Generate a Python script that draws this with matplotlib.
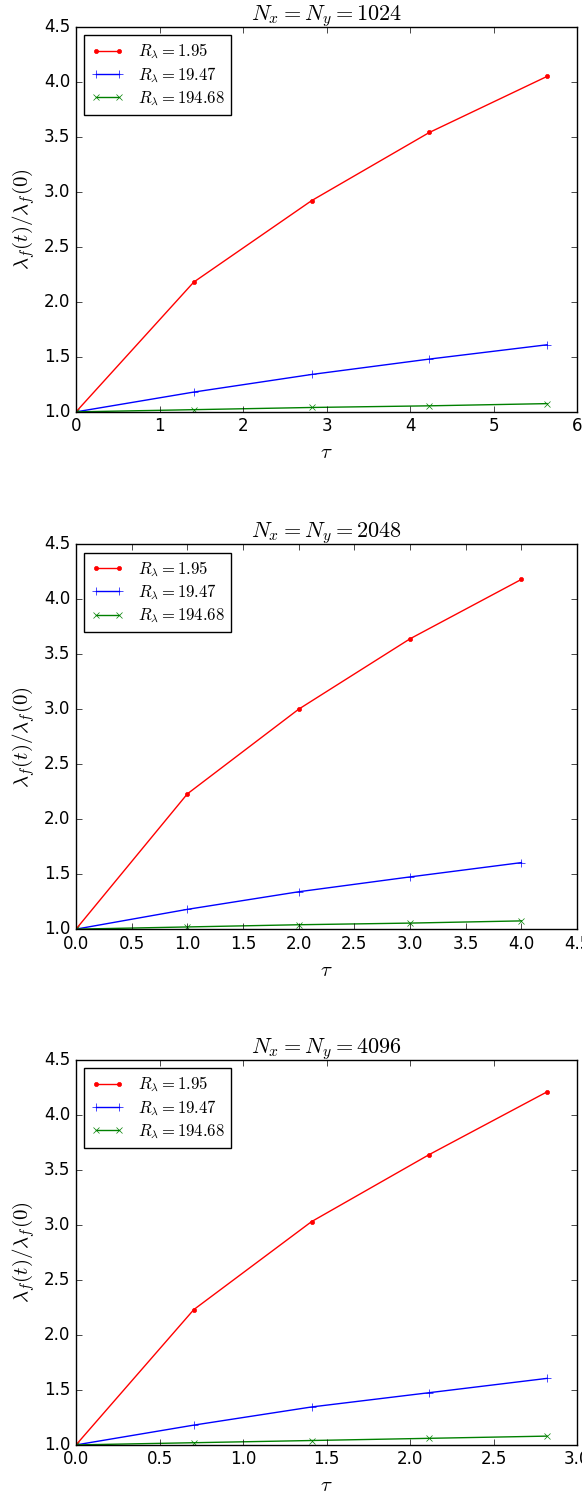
import matplotlib
matplotlib.use("Agg")
import matplotlib.pyplot as plt

plt.style.use("classic")
plt.rcParams["mathtext.fontset"] = "cm"

grid_labels = ["1024", "2048", "4096"]
tau_1024 = [0.0, 1.41, 2.82, 4.23, 5.64]
tau_2048 = [0.0, 1.0, 2.0, 3.0, 4.0]
tau_4096 = [0.0, 0.705, 1.41, 2.115, 2.82]

r195_1024 = [1.0, 2.18, 2.92, 3.54, 4.05]
r1947_1024 = [1.0, 1.18, 1.34, 1.48, 1.61]
r19468_1024 = [1.0, 1.02, 1.04, 1.055, 1.075]

r195_2048 = [1.0, 2.23, 3.00, 3.64, 4.18]
r1947_2048 = [1.0, 1.18, 1.34, 1.475, 1.605]
r19468_2048 = [1.0, 1.02, 1.04, 1.055, 1.075]

r195_4096 = [1.0, 2.23, 3.03, 3.64, 4.21]
r1947_4096 = [1.0, 1.18, 1.345, 1.475, 1.605]
r19468_4096 = [1.0, 1.02, 1.04, 1.06, 1.08]

series_labels = [r"$R_\lambda = 1.95$", r"$R_\lambda = 19.47$", r"$R_\lambda = 194.68$"]
xlims = [6, 4.5, 3]

taus = [tau_1024, tau_2048, tau_4096]
data = [
    [r195_1024, r1947_1024, r19468_1024],
    [r195_2048, r1947_2048, r19468_2048],
    [r195_4096, r1947_4096, r19468_4096],
]
styles = [("r", ".", 6), ("b", "+", 6), ("g", "x", 5)]

fig = plt.figure(figsize=(5.82, 14.95), dpi=100)
fig.patch.set_facecolor("white")
tops = [0.982, 0.636, 0.291]
h = 0.2575
for i in range(3):
    ax = fig.add_axes([0.1306, tops[i] - h, 0.861, h])
    for ys, (c, m, ms), lab in zip(data[i], styles, series_labels):
        ax.plot(taus[i], ys, color=c, marker=m, markersize=ms, label=lab, markeredgecolor=c)
    ax.set_xlim(0, xlims[i])
    ax.set_ylim(1.0, 4.5)
    ax.set_title(r"$N_x = N_y = %s$" % grid_labels[i], fontsize=16)
    ax.set_xlabel(r"$\tau$", fontsize=15)
    ax.set_ylabel(r"$\lambda_f(t)/\lambda_f(0)$", fontsize=15)
    ax.legend(loc="upper left", fontsize=12, labelspacing=0.25)

fig.savefig("out.png", dpi=100, facecolor="white")
